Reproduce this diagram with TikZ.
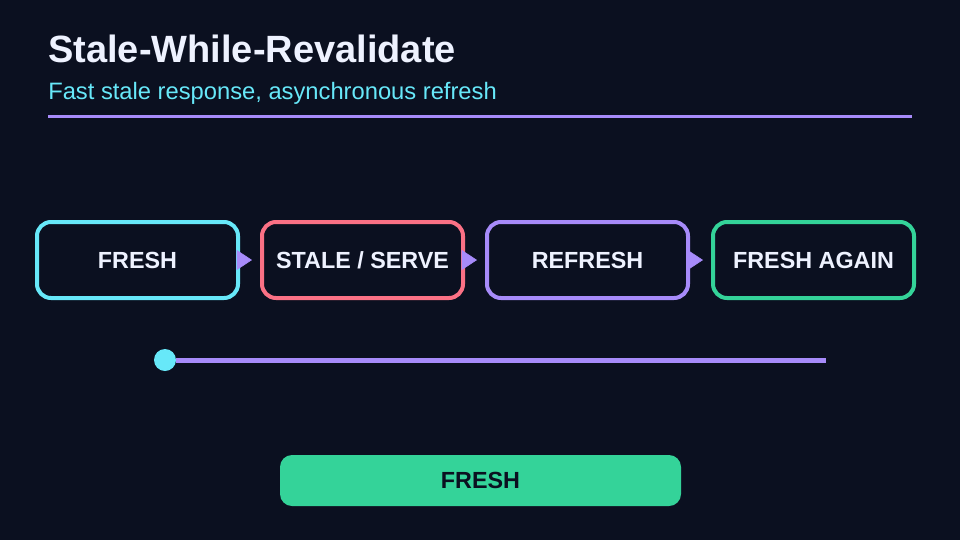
\documentclass[tikz,border=0pt]{standalone}
\usepackage{fontspec}
\setmainfont{Liberation Sans}
\usetikzlibrary{arrows.meta}
\definecolor{bg}{HTML}{0B1020}
\definecolor{ink}{HTML}{EEF2FF}
\definecolor{cyanc}{HTML}{67E8F9}
\definecolor{redc}{HTML}{FB7185}
\definecolor{purc}{HTML}{A78BFA}
\definecolor{grnc}{HTML}{34D399}
\tikzset{
  stagebox/.style={draw=#1, line width=3pt, rounded corners=10.5pt, minimum width=150.75pt, minimum height=57pt, inner sep=0pt, text=ink, font=\bfseries\fontsize{17.5}{20}\selectfont},
  flowarrow/.style={draw=purc, fill=purc, line width=0.5pt, shorten >=6pt, -{Triangle[length=11.5pt,width=15pt]}},
}
\begin{document}
\begin{tikzpicture}[x=0.75pt,y=-0.75pt]
\fill[bg] (0,0) rectangle (960,540);
\useasboundingbox (0,0) rectangle (960,540);
\node[anchor=base west, inner sep=0pt, text=ink, font=\bfseries\fontsize{28.5}{32}\selectfont] (title) at (48,62) {Stale-While-Revalidate};
\node[anchor=base west, inner sep=0pt, text=cyanc, font=\fontsize{17.8}{21}\selectfont] (subtitle) at (48,99) {Fast stale response, asynchronous refresh};
\coordinate (rulea) at (48,116);
\coordinate (ruleb) at (912,116);
\draw[purc, line width=2.25pt] (rulea) -- (ruleb);
\node[stagebox=cyanc] (s1) at (137.5,260) {FRESH};
\node[stagebox=redc] (s2) at (362.5,260) {STALE / SERVE};
\node[stagebox=purc] (s3) at (587.5,260) {REFRESH};
\node[stagebox=grnc] (s4) at (813.5,260) {FRESH AGAIN};
\draw[flowarrow] (s1.east) -- (s2.west);
\draw[flowarrow] (s2.east) -- (s3.west);
\draw[flowarrow] (s3.east) -- (s4.west);
\node[circle, fill=cyanc, minimum size=16.5pt, inner sep=0pt] (dot) at (165,360) {};
\coordinate (tend) at (826,360);
\draw[purc, line width=3.75pt] (dot.east) -- (tend);
\node[fill=grnc, rounded corners=9pt, minimum width=300.75pt, minimum height=38.25pt, inner sep=0pt, text=bg, font=\bfseries\fontsize{17.5}{20}\selectfont] (state) at (480.5,480.5) {FRESH};
\end{tikzpicture}
\end{document}
